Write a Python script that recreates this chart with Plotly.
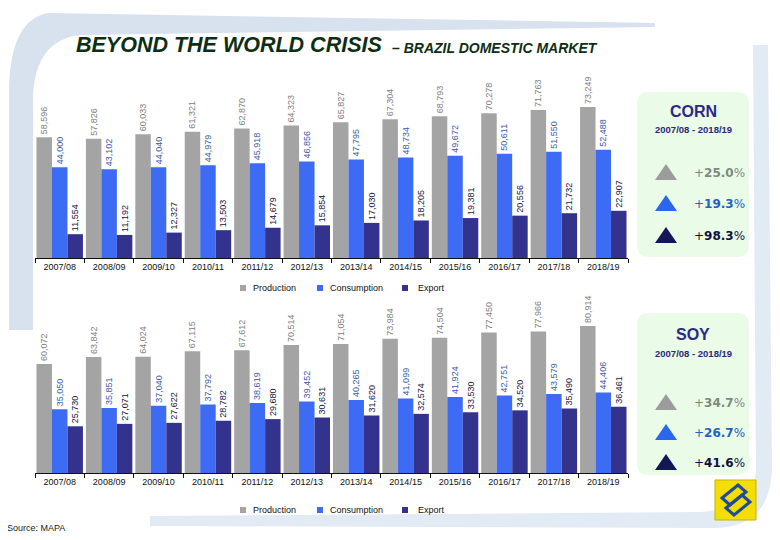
import plotly.graph_objects as go

# ---------------- data ----------------
seasons = ["2007/08", "2008/09", "2009/10", "2010/11", "2011/12", "2012/13",
           "2013/14", "2014/15", "2015/16", "2016/17", "2017/18", "2018/19"]
series_names = ["Production", "Consumption", "Export"]

corn_production = [58596, 57826, 60033, 61321, 62870, 64323, 65827, 67304, 68793, 70278, 71763, 73249]
corn_consumption = [44000, 43102, 44040, 44979, 45918, 46856, 47795, 48734, 49672, 50611, 51550, 52488]
corn_export = [11554, 11192, 12327, 13503, 14679, 15854, 17030, 18205, 19381, 20556, 21732, 22907]

soy_production = [60072, 63842, 64024, 67115, 67612, 70514, 71054, 73984, 74504, 77450, 77966, 80914]
soy_consumption = [35050, 35851, 37040, 37792, 38619, 39452, 40265, 41099, 41924, 42751, 43579, 44406]
soy_export = [25730, 27071, 27622, 28782, 29680, 30631, 31620, 32574, 33530, 34520, 35490, 36461]

corn_growth = ["25.0", "19.3", "98.3"]
soy_growth = ["34.7", "26.7", "41.6"]
period_label = "2007/08 - 2018/19"

# ---------------- styles ----------------
OFF = 8  # page body margin
W, H = 780 - OFF, 540 - OFF
bar_colors = ["#A4A4A4", "#3D6BF4", "#33338E"]
label_colors = ["#808080", "#3A5CA8", "#16163A"]
tri_colors = ["#9C9C9C", "#2A66EE", "#15155A"]
pct_colors = ["#7D8A7D", "#2262C0", "#10103E"]
FONT = "Liberation Sans"


def px(x):
    return (x - OFF) / W


def py(y):
    return 1 - (y - OFF) / H


fig = go.Figure()

charts = [
    ("x", "y", [corn_production, corn_consumption, corn_export]),
    ("x2", "y2", [soy_production, soy_consumption, soy_export]),
]
for xa, ya, vals in charts:
    for i, name in enumerate(series_names):
        fig.add_trace(go.Bar(
            x=seasons, y=vals[i], name=name, xaxis=xa, yaxis=ya,
            marker=dict(color=bar_colors[i], line=dict(width=0)),
            texttemplate="%{y:,.0f}", textposition="outside", textangle=-90,
            textfont=dict(family=FONT, size=9, color=label_colors[i]),
            constraintext="none", cliponaxis=False, showlegend=False,
        ))

xdom = [px(35), px(628)]
axis_common = dict(
    type="category", showline=True, linecolor="#111111", linewidth=1,
    ticks="outside", ticklen=4, tickcolor="#111111", tickson="boundaries",
    tickfont=dict(family=FONT, size=9, color="#111111"), showgrid=False,
    fixedrange=True,
)
yaxis_common = dict(showticklabels=False, showgrid=False, zeroline=False,
                    showline=False, ticks="", fixedrange=True)

fig.update_layout(
    width=W, height=H, margin=dict(l=0, r=0, t=0, b=0),
    paper_bgcolor="white", plot_bgcolor="rgba(0,0,0,0)",
    barmode="group", bargap=0.06, bargroupgap=0,
    xaxis=dict(domain=xdom, anchor="y", **axis_common),
    yaxis=dict(domain=[py(258), py(75)], range=[0, 88800], anchor="x", **yaxis_common),
    xaxis2=dict(domain=xdom, anchor="y2", **axis_common),
    yaxis2=dict(domain=[py(473), py(300)], range=[0, 95300], anchor="x2", **yaxis_common),
)

shapes = []
annotations = []

# background swooshes
swoosh_left = (
    f"M {px(48)},{py(13)} Q {px(10)},{py(20)} {px(9)},{py(90)} "
    f"L {px(9)},{py(330)} L {px(33)},{py(330)} L {px(33)},{py(95)} "
    f"Q {px(36)},{py(40)} {px(80)},{py(35)} L {px(655)},{py(27)} "
    f"L {px(655)},{py(23)} Z"
)
shapes.append(dict(type="path", path=swoosh_left, xref="paper", yref="paper",
                   fillcolor="#D7E2EE", line=dict(width=0), layer="below"))
swoosh_right = (
    f"M {px(753)},{py(45)} L {px(768)},{py(45)} L {px(772)},{py(470)} "
    f"Q {px(770)},{py(527)} {px(715)},{py(528)} L {px(150)},{py(526)} "
    f"L {px(150)},{py(516)} L {px(700)},{py(512)} "
    f"Q {px(754)},{py(508)} {px(756)},{py(470)} Z"
)
shapes.append(dict(type="path", path=swoosh_right, xref="paper", yref="paper",
                   fillcolor="#E2EAF3", line=dict(width=0), layer="below"))


def rrect(x0, y0, x1, y1, r):
    return (
        f"M {px(x0 + r)},{py(y0)} L {px(x1 - r)},{py(y0)} "
        f"Q {px(x1)},{py(y0)} {px(x1)},{py(y0 + r)} L {px(x1)},{py(y1 - r)} "
        f"Q {px(x1)},{py(y1)} {px(x1 - r)},{py(y1)} L {px(x0 + r)},{py(y1)} "
        f"Q {px(x0)},{py(y1)} {px(x0)},{py(y1 - r)} L {px(x0)},{py(y0 + r)} "
        f"Q {px(x0)},{py(y0)} {px(x0 + r)},{py(y0)} Z"
    )


def tri(cx, cy, w=22, h=16):
    return (f"M {px(cx - w / 2)},{py(cy + h / 2)} L {px(cx + w / 2)},{py(cy + h / 2)} "
            f"L {px(cx)},{py(cy - h / 2)} Z")


panels = [
    ("CORN", corn_growth, 92, 257, 111, 129, [172, 203, 235]),
    ("SOY", soy_growth, 313, 475, 334, 353, [402, 432, 462]),
]
for title, growth, top, bottom, ty, sy, tri_ys in panels:
    shapes.append(dict(type="path", path=rrect(637, top, 749, bottom, 12),
                       xref="paper", yref="paper", fillcolor="#EAFBE8",
                       line=dict(width=0), layer="below"))
    annotations.append(dict(x=px(693), y=py(ty), xref="paper", yref="paper",
                            text=f"<b>{title}</b>", showarrow=False,
                            xanchor="center", yanchor="middle",
                            font=dict(family=FONT, size=16, color="#2A2A86")))
    annotations.append(dict(x=px(693), y=py(sy), xref="paper", yref="paper",
                            text=f"<b>{period_label}</b>", showarrow=False,
                            xanchor="center", yanchor="middle",
                            font=dict(family=FONT, size=9.5, color="#2A2A70")))
    for i, yy in enumerate(tri_ys):
        shapes.append(dict(type="path", path=tri(666, yy), xref="paper", yref="paper",
                           fillcolor=tri_colors[i], line=dict(width=0)))
        annotations.append(dict(x=px(692), y=py(yy + 1), xref="paper", yref="paper",
                                text=f"+<b>{growth[i]}</b>%", showarrow=False,
                                xanchor="left", yanchor="middle",
                                font=dict(family="DejaVu Sans", size=12, color=pct_colors[i])))

# manual legends
for ly in [288, 510]:
    for i, (sx, tx) in enumerate([(243, 251), (320, 328), (405, 416)]):
        shapes.append(dict(type="rect", xref="paper", yref="paper",
                           x0=px(sx - 3), x1=px(sx + 3), y0=py(ly + 3), y1=py(ly - 3),
                           fillcolor=bar_colors[i], line=dict(width=0)))
        annotations.append(dict(x=px(tx), y=py(ly), xref="paper", yref="paper",
                                text=series_names[i], showarrow=False,
                                xanchor="left", yanchor="middle",
                                font=dict(family=FONT, size=9, color="#111111")))

# title
annotations.append(dict(x=px(74), y=py(45), xref="paper", yref="paper",
                        text="BEYOND THE WORLD CRISIS", showarrow=False,
                        xanchor="left", yanchor="middle",
                        font=dict(family=FONT, size=21.5, color="#0E2E14",
                                  weight="bold", style="italic")))
annotations.append(dict(x=px(390), y=py(48), xref="paper", yref="paper",
                        text="– BRAZIL DOMESTIC MARKET", showarrow=False,
                        xanchor="left", yanchor="middle",
                        font=dict(family=FONT, size=14, color="#0E2E14",
                                  weight="bold", style="italic")))

# source
annotations.append(dict(x=px(5), y=py(528), xref="paper", yref="paper",
                        text="Source: MAPA", showarrow=False,
                        xanchor="left", yanchor="middle",
                        font=dict(family=FONT, size=9, color="#222222")))

# logo (yellow square with stylised blue mark)
shapes.append(dict(type="rect", xref="paper", yref="paper",
                   x0=px(715), x1=px(756), y0=py(520), y1=py(480),
                   fillcolor="#F4DD00", line=dict(color="#C9B200", width=1)))
logo1 = (f"M {px(722)},{py(498)} L {px(738)},{py(485)} L {px(746)},{py(492)} "
         f"L {px(730)},{py(505)} Z")
logo2 = (f"M {px(726)},{py(508)} L {px(742)},{py(495)} L {px(750)},{py(502)} "
         f"L {px(734)},{py(515)} Z")
for p in (logo1, logo2):
    shapes.append(dict(type="path", path=p, xref="paper", yref="paper",
                       fillcolor="rgba(0,0,0,0)", line=dict(color="#1E4C9A", width=3)))

fig.update_layout(shapes=shapes, annotations=annotations)
fig.write_html("out.html")
